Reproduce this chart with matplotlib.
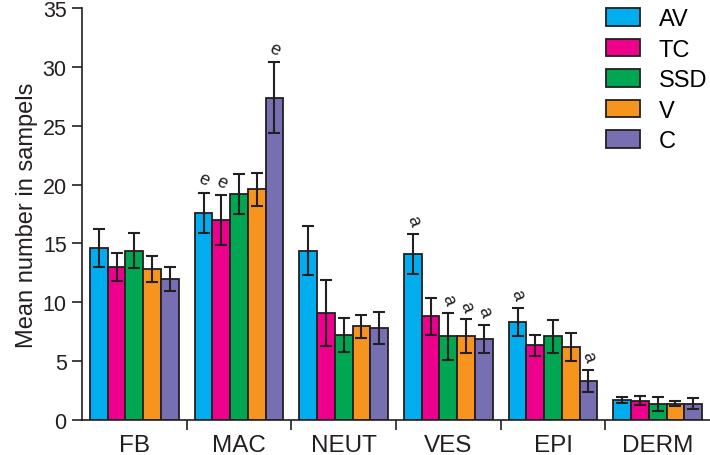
import numpy as np
import matplotlib
matplotlib.use('Agg')
import matplotlib.pyplot as plt

plt.rcParams['font.family'] = ['Liberation Sans', 'DejaVu Sans']

categories = ['FB', 'MAC', 'NEUT', 'VES', 'EPI', 'DERM']
groups = ['AV', 'TC', 'SSD', 'V', 'C']
colors = ['#00aeef', '#ec008c', '#00a651', '#f7941d', '#7670b3']

means = {
    'AV':  [14.6, 17.6, 14.4, 14.1, 8.3, 1.7],
    'TC':  [13.0, 17.0, 9.1, 8.8, 6.35, 1.65],
    'SSD': [14.4, 19.2, 7.25, 7.1, 7.1, 1.35],
    'V':   [12.8, 19.6, 7.95, 7.1, 6.2, 1.4],
    'C':   [12.0, 27.4, 7.8, 6.9, 3.3, 1.4],
}
errs = {
    'AV':  [1.6, 1.7, 2.1, 1.7, 1.2, 0.25],
    'TC':  [1.2, 2.1, 2.8, 1.6, 0.9, 0.35],
    'SSD': [1.5, 1.7, 1.45, 2.0, 1.4, 0.6],
    'V':   [1.1, 1.4, 1.0, 1.45, 1.2, 0.25],
    'C':   [1.0, 3.0, 1.35, 1.2, 0.95, 0.5],
}
# significance letters: (category, group, letter)
marks = [('MAC', 'AV', 'e'), ('MAC', 'TC', 'e'), ('MAC', 'C', 'e'),
         ('VES', 'AV', 'a'), ('VES', 'SSD', 'a'), ('VES', 'V', 'a'), ('VES', 'C', 'a'),
         ('EPI', 'AV', 'a'), ('EPI', 'C', 'a')]

fig = plt.figure(figsize=(7.1, 4.56), dpi=100)
ax = fig.add_axes([0.1155, 0.0768, 0.8845, 0.9032])

w = 0.169
x = np.arange(len(categories)) + 0.5
for i, g in enumerate(groups):
    pos = x + (i - 2) * w
    ax.bar(pos, means[g], w, color=colors[i], edgecolor='#231f20', linewidth=1.3,
           label=g, zorder=2)
    ax.errorbar(pos, means[g], yerr=errs[g], fmt='none', ecolor='#231f20',
                elinewidth=1.5, capsize=4, capthick=1.5, zorder=3)

for cat, g, s in marks:
    ci = categories.index(cat)
    gi = groups.index(g)
    top = means[g][ci] + errs[g][ci]
    rot = -25 if s == 'e' else -70
    ax.text(x[ci] + (gi - 2) * w, top + 1.15, s, ha='center', va='center',
            fontsize=13, rotation=rot, color='#231f20')

ax.set_xlim(0, 6)
ax.set_ylim(0, 35)
ax.set_yticks(np.arange(0, 36, 5))
ax.set_xticks(np.arange(1, 6))
ax.set_xticklabels([])
ax.set_xticks(x, minor=True)
ax.set_xticklabels(categories, minor=True)
ax.tick_params(axis='x', which='minor', length=0, pad=10, labelsize=17.5,
               labelcolor='#231f20')
ax.tick_params(axis='x', which='major', length=7, width=1.2, color='#231f20')
ax.tick_params(axis='y', length=7, width=1.2, labelsize=15.5, color='#231f20',
               labelcolor='#231f20', pad=4)
for s in ['top', 'right']:
    ax.spines[s].set_visible(False)
for s in ['left', 'bottom']:
    ax.spines[s].set_linewidth(1.2)
    ax.spines[s].set_color('#231f20')
ax.set_ylabel('Mean number in sampels', fontsize=17, color='#231f20', labelpad=3)

ax.legend(loc='upper left', bbox_to_anchor=(0.834, 1.0), frameon=False,
          fontsize=17, handlelength=1.44, handleheight=0.76, labelspacing=0.36,
          handletextpad=0.8, borderpad=0, borderaxespad=0)

fig.savefig('out.png', dpi=100)
